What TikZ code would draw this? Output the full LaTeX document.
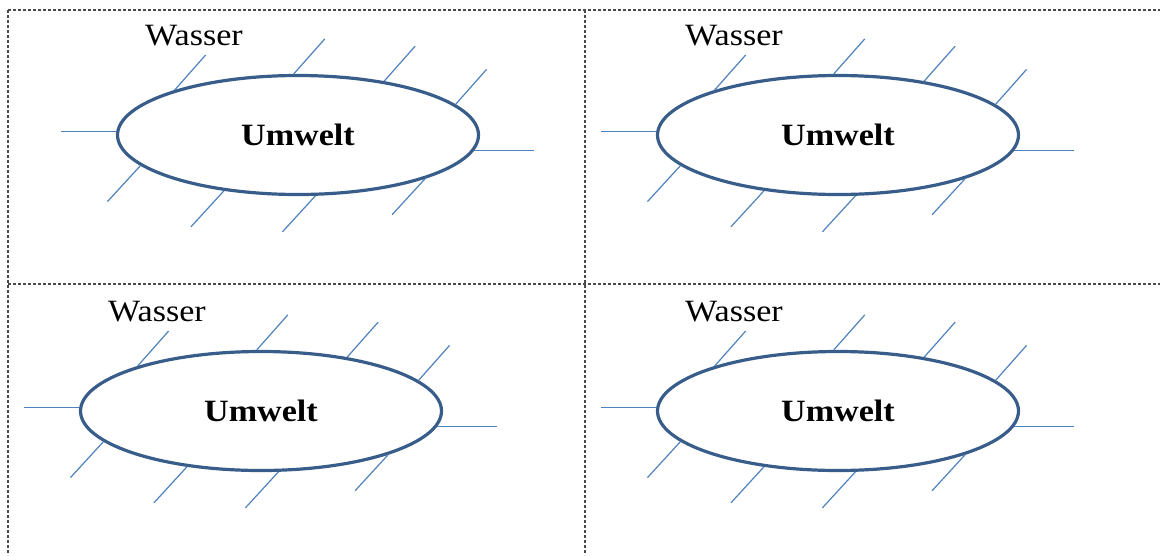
\documentclass[tikz,border=0pt]{standalone}
\usepackage{fontspec}
\setmainfont{Liberation Serif}
\newfontfamily\panelfont[FakeStretch=1.1]{Liberation Serif}
\usetikzlibrary{shapes.geometric}
\definecolor{ellline}{HTML}{385D8A}
\definecolor{spokecol}{HTML}{4F81BD}
\definecolor{framecol}{HTML}{4A4A4A}
\tikzset{
  envbox/.style={ellipse, draw=ellline, line width=3.2pt, minimum width=361pt,
    minimum height=119pt, inner sep=0pt,
    font=\panelfont\fontsize{31}{36}\selectfont\bfseries},
  spokeline/.style={draw=spokecol, line width=1.2pt},
  lbl/.style={anchor=base, inner sep=0pt, font=\panelfont\fontsize{31}{36}\selectfont},
  framedash/.style={draw=framecol, line width=1.3pt, dash pattern=on 3pt off 2pt}
}
\newcommand{\envpanel}[3]{%
  \node[envbox] (#1) at (#2,#3) {Umwelt};
  \node[lbl] (#1w) at (#2-104,#3-90) {Wasser};
  \foreach \ang in {160,94,32,11}
    \draw[spokeline] (#1.\ang) -- ++(31,-35);
  \foreach \ang in {191,217,286,341}
    \draw[spokeline] (#1.\ang) -- ++(-33,36);
  \draw[spokeline] (#1.179) -- ++(-55,0);
  \draw[spokeline] (#1.-5.5) -- ++(60,0);
}
\begin{document}
\begin{tikzpicture}[x=1pt,y=-1pt]
  \useasboundingbox (0,0) rectangle (1160,555);
  % dashed frame
  \draw[framedash] (8,10) -- (1160,10);
  \draw[framedash] (8,284) -- (1160,284);
  \draw[framedash] (8,10) -- (8,555);
  \draw[framedash] (585,10) -- (585,555);
  % panels
  \envpanel{tl}{298}{135}
  \envpanel{tr}{838}{135}
  \envpanel{bl}{261}{411}
  \envpanel{br}{838}{411}
\end{tikzpicture}
\end{document}
